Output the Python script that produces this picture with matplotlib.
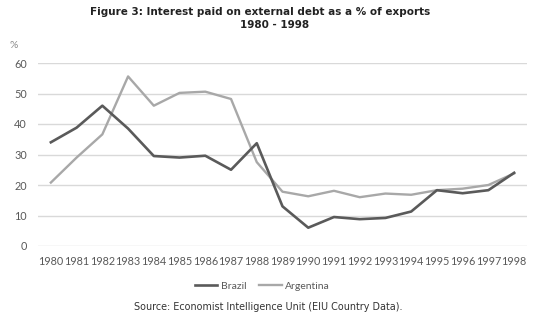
import matplotlib
matplotlib.use("Agg")
import matplotlib.pyplot as plt

# data
years = list(range(1980, 1999))
brazil = [34.0, 38.8, 46.0, 38.5, 29.5, 29.0, 29.6, 25.0, 33.7, 13.0,
          6.0, 9.5, 8.8, 9.2, 11.3, 18.3, 17.3, 18.3, 24.0]
argentina = [20.8, 29.0, 36.6, 55.6, 46.0, 50.2, 50.6, 48.2, 27.5, 17.8,
             16.3, 18.1, 16.0, 17.2, 16.8, 18.3, 18.8, 20.0, 23.8]
yticks = [0, 10, 20, 30, 40, 50, 60]

plt.rcParams['font.family'] = ['Lato', 'DejaVu Sans']

fig = plt.figure(figsize=(5.36, 3.21), dpi=100)
ax = fig.add_axes([38/536, 1 - 246/321, (527 - 38)/536, (246 - 63)/321])

ax.plot(years, brazil, color='#5a5a5a', lw=1.9, label='Brazil', zorder=3)
ax.plot(years, argentina, color='#a8a8a8', lw=1.7, label='Argentina', zorder=2)

ax.set_xlim(1979.5, 1998.5)
ax.set_ylim(0, 60)
ax.set_yticks(yticks)
ax.set_xticks(years)
ax.set_xticklabels([str(y) for y in years])
ax.grid(axis='y', color='#d9d9d9', lw=1)
ax.set_axisbelow(True)
for s in ax.spines.values():
    s.set_visible(False)
ax.tick_params(length=0, labelsize=7.8, colors='#595959')
ax.tick_params(axis='x', pad=7)
ax.tick_params(axis='y', pad=8)

fig.text(9/536, 1 - 45/321, '%', fontsize=7.5, color='#8c8c8c', va='center')
fig.text(260/536, 1 - 12/321, 'Figure 3: Interest paid on external debt as a % of exports',
         ha='center', va='center', fontsize=7.5, fontweight='bold', color='#222222',
         family='DejaVu Sans')
fig.text(275/536, 1 - 25/321, '1980 - 1998', ha='center', va='center',
         fontsize=7.5, fontweight='bold', color='#222222', family='DejaVu Sans')

fig.legend(loc='center', bbox_to_anchor=(262/536, 1 - 286/321), ncol=2, frameon=False,
           fontsize=7.5, handlelength=2.2, handletextpad=0.3, columnspacing=1.2,
           labelcolor='#595959')
fig.text(268/536, 1 - 307/321, 'Source: Economist Intelligence Unit (EIU Country Data).',
         ha='center', va='center', fontsize=6.9, color='#333333', family='DejaVu Sans')

fig.savefig('out.png', dpi=100)
